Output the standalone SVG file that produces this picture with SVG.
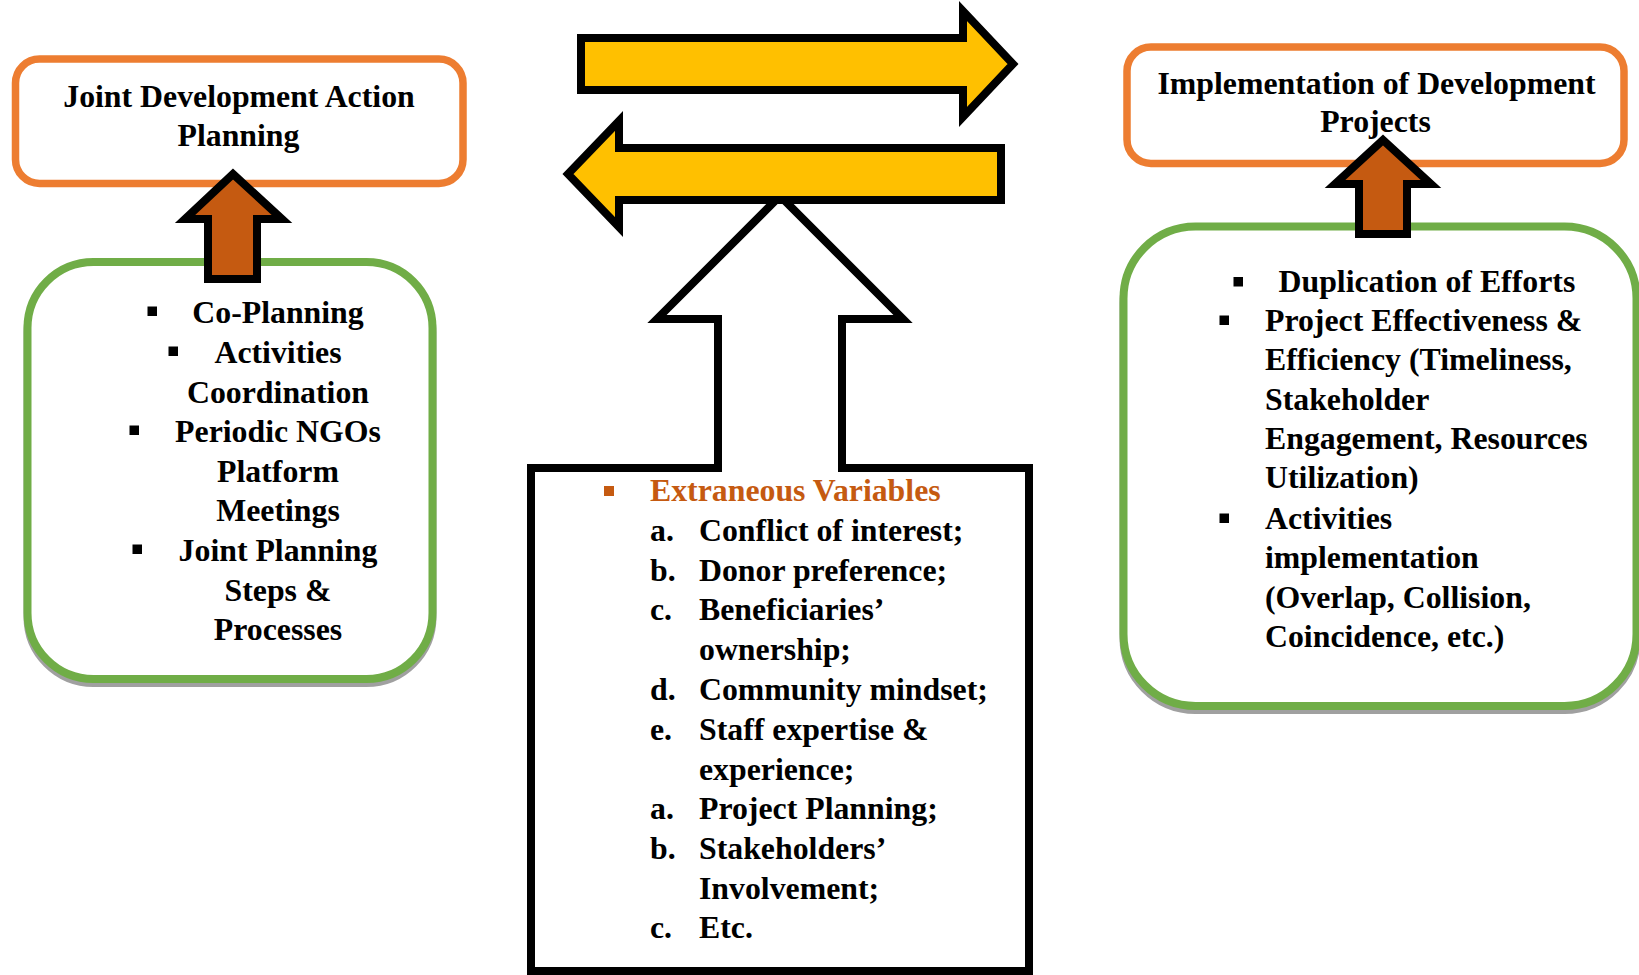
<svg xmlns="http://www.w3.org/2000/svg" width="1639" height="975" viewBox="0 0 1639 975">
<style>
  .t { font-family: "Liberation Serif", "Times New Roman", serif; font-weight: bold; font-size: 31.8px; fill: #000; }
  .c { text-anchor: middle; }
  .orange { fill: #C55A11; }
  .obox { fill: #fff; stroke: #ED7D31; stroke-width: 7.5; }
  .gbox { fill: #fff; stroke: #70AD47; stroke-width: 8; }
  .shadow { fill: none; stroke: #A0A0A0; stroke-width: 8; }
  .brown { fill: #C55A11; stroke: #000; stroke-width: 8; stroke-linejoin: miter; stroke-miterlimit: 10; }
  .yellow { fill: #FFC000; stroke: #000; stroke-width: 8; stroke-linejoin: miter; stroke-miterlimit: 10; }
  .white { fill: #fff; stroke: #000; stroke-width: 8; stroke-linejoin: miter; stroke-miterlimit: 10; }
  .blt { fill: #000; }
</style>

<!-- Left green box: list -->
<g id="left-list">
  <rect class="shadow" x="27.5" y="266" width="405" height="417" rx="66"/>
  <rect class="gbox" x="27.5" y="262" width="405" height="417" rx="66"/>
  <rect class="blt" x="147.5" y="306.5" width="9.5" height="9.5"/>
  <text class="t c" x="278" y="323">Co-Planning</text>
  <rect class="blt" x="168.5" y="346.5" width="9.5" height="9.5"/>
  <text class="t c" x="278" y="363">Activities</text>
  <text class="t c" x="278" y="403">Coordination</text>
  <rect class="blt" x="129.5" y="425.5" width="9.5" height="9.5"/>
  <text class="t c" x="278" y="442">Periodic NGOs</text>
  <text class="t c" x="278" y="482">Platform</text>
  <text class="t c" x="278" y="521">Meetings</text>
  <rect class="blt" x="132.5" y="544.5" width="9.5" height="9.5"/>
  <text class="t c" x="278" y="561">Joint Planning</text>
  <text class="t c" x="278" y="601">Steps &amp;</text>
  <text class="t c" x="278" y="640">Processes</text>
</g>

<!-- Right green box: list -->
<g id="right-list">
  <rect class="shadow" x="1123.5" y="231" width="513" height="479" rx="72"/>
  <rect class="gbox" x="1123.5" y="226.5" width="513" height="479.5" rx="72"/>
  <rect class="blt" x="1233.5" y="277" width="9.5" height="9.5"/>
  <text class="t" x="1278.5" y="292">Duplication of Efforts</text>
  <rect class="blt" x="1219.5" y="315.5" width="9.5" height="9.5"/>
  <text class="t" x="1265" y="331">Project Effectiveness &amp;</text>
  <text class="t" x="1265" y="370">Efficiency (Timeliness,</text>
  <text class="t" x="1265" y="410">Stakeholder</text>
  <text class="t" x="1265" y="449">Engagement, Resources</text>
  <text class="t" x="1265" y="488">Utilization)</text>
  <rect class="blt" x="1219.5" y="513.5" width="9.5" height="9.5"/>
  <text class="t" x="1265" y="529">Activities</text>
  <text class="t" x="1265" y="568">implementation</text>
  <text class="t" x="1265" y="608">(Overlap, Collision,</text>
  <text class="t" x="1265" y="647">Coincidence, etc.)</text>
</g>

<!-- Left orange header -->
<g id="joint-planning">
  <rect class="obox" x="15.5" y="59" width="447.5" height="124.5" rx="24"/>
  <text class="t c" x="239" y="106.5">Joint Development Action</text>
  <text class="t c" x="238.5" y="146">Planning</text>
</g>

<!-- Right orange header -->
<g id="implementation">
  <rect class="obox" x="1127" y="47" width="497" height="116.5" rx="24"/>
  <text class="t c" x="1376.5" y="93.5">Implementation of Development</text>
  <text class="t c" x="1375.5" y="131.5">Projects</text>
</g>

<!-- Middle: extraneous variables box with up arrow -->
<g id="extraneous">
  <path class="white" d="M531,971 V468 H718 V319 H657 L780,196 L903,319 H842 V468 H1029 V971 Z"/>
  <rect class="orange" x="604" y="486" width="10" height="10"/>
  <text class="t orange" x="650" y="501">Extraneous Variables</text>
  <text class="t" x="650" y="541">a.</text><text class="t" x="699" y="541">Conflict of interest;</text>
  <text class="t" x="650" y="580.5">b.</text><text class="t" x="699" y="580.5">Donor preference;</text>
  <text class="t" x="650" y="620">c.</text><text class="t" x="699" y="620">Beneficiaries’</text>
  <text class="t" x="699" y="660">ownership;</text>
  <text class="t" x="650" y="700">d.</text><text class="t" x="699" y="700">Community mindset;</text>
  <text class="t" x="650" y="739.5">e.</text><text class="t" x="699" y="739.5">Staff expertise &amp;</text>
  <text class="t" x="699" y="779.5">experience;</text>
  <text class="t" x="650" y="819">a.</text><text class="t" x="699" y="819">Project Planning;</text>
  <text class="t" x="650" y="859">b.</text><text class="t" x="699" y="859">Stakeholders’</text>
  <text class="t" x="699" y="899">Involvement;</text>
  <text class="t" x="650" y="938">c.</text><text class="t" x="699" y="938">Etc.</text>
</g>

<!-- Connectors -->
<g id="connectors">
  <polygon class="yellow" points="581,38 963,38 963,11 1013,64 963,117 963,90 581,90"/>
  <polygon class="yellow" points="1001,148 619,148 619,121 568,174 619,227 619,200 1001,200"/>
  <polygon class="brown" points="233,174 282,219 257,219 257,279 208,279 208,219 185,219"/>
  <polygon class="brown" points="1383,140 1431,184 1407,184 1407,234 1359,234 1359,184 1335,184"/>
</g>
</svg>
